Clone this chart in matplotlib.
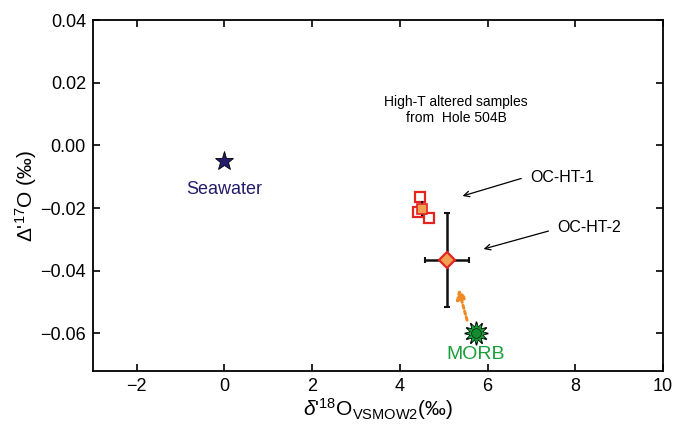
import numpy as np
import matplotlib
matplotlib.use('Agg')
import matplotlib.pyplot as plt

plt.rcParams['font.family'] = ['Liberation Sans', 'DejaVu Sans']
plt.rcParams['mathtext.fontset'] = 'custom'
plt.rcParams['mathtext.rm'] = 'Liberation Sans'
plt.rcParams['mathtext.it'] = 'Liberation Sans:italic'

# 数据
seawater = (0.0, -0.005)
ht1_x = [4.46, 4.42, 4.66]
ht1_y = [-0.0164, -0.0211, -0.0232]
ht1_mean = (4.51, -0.0202)
ht1_mean_err = 0.0024
ht2 = (5.07, -0.0365)
ht2_xerr = 0.5
ht2_yerr = 0.015
morb = (5.74, -0.060)

fig = plt.figure(figsize=(6.73, 4.26), dpi=100)
ax = fig.add_axes([0.138, 0.129, 0.847, 0.824])

# 海水
ax.plot(*seawater, marker='*', ms=14, color='#231c6b', mec='black', mew=0.6)
ax.text(seawater[0], -0.0142, 'Seawater', color='#231c6b', fontsize=13,
        ha='center', va='center')

# OC-HT-1
ax.plot(ht1_x, ht1_y, 's', ms=7, mfc='white', mec='#e52420', mew=1.6, ls='none')
ax.errorbar(ht1_mean[0], ht1_mean[1], yerr=ht1_mean_err, fmt='s', ms=7,
            mfc='#f0a050', mec='#e52420', mew=1.2, ecolor='black',
            elinewidth=1.5, capsize=0, zorder=3)

# OC-HT-2
ax.errorbar(ht2[0], ht2[1], xerr=ht2_xerr, yerr=ht2_yerr, fmt='none',
            ecolor='#111111', elinewidth=1.8, capsize=2.5, capthick=1.5)
ax.plot(*ht2, marker='D', ms=8, mfc='#f0a050', mec='#e52420', mew=1.6,
        zorder=4)

# MORB
ax.plot(*morb, marker=(12, 1, 0), ms=17, color='black', zorder=4)
ax.plot(*morb, marker=(12, 1, 0), ms=13, color='#1a9e3a', zorder=5)
ax.plot(*morb, marker='o', ms=7, color='#118a30', mec='black', mew=0.4,
        zorder=6)
ax.text(morb[0], -0.0668, 'MORB', color='#1a9e3a', fontsize=14,
        ha='center', va='center')

# 箭头
ax.annotate('', xy=(5.32, -0.0449), xytext=(5.55, -0.0566),
            arrowprops=dict(arrowstyle='-|>', color='#f08a24', lw=2.2,
                            ls=(0, (1, 1)), mutation_scale=14))
ax.annotate('', xy=(5.37, -0.0164), xytext=(6.83, -0.0103),
            arrowprops=dict(arrowstyle='->', color='black', lw=0.9))
ax.annotate('', xy=(5.85, -0.0333), xytext=(7.45, -0.0271),
            arrowprops=dict(arrowstyle='->', color='black', lw=0.9))
ax.text(6.98, -0.0103, 'OC-HT-1', fontsize=11.5, ha='left', va='center')
ax.text(7.58, -0.0262, 'OC-HT-2', fontsize=11.5, ha='left', va='center')

ax.text(5.28, 0.0113, 'High-T altered samples\nfrom  Hole 504B', fontsize=10,
        ha='center', va='center', linespacing=1.1)

ax.set_xlim(-3, 10)
ax.set_ylim(-0.072, 0.04)
ax.set_xticks([-2, 0, 2, 4, 6, 8, 10])
ax.set_yticks([-0.06, -0.04, -0.02, 0.00, 0.02, 0.04])
ax.set_yticklabels(['\u22120.06', '\u22120.04', '\u22120.02', '0.00', '0.02', '0.04'])
ax.set_xticklabels(['\u22122', '0', '2', '4', '6', '8', '10'])
ax.tick_params(direction='in', top=True, right=True, labelsize=13, length=5,
               width=1.2, pad=5)
for s in ax.spines.values():
    s.set_linewidth(1.3)

ax.set_xlabel(r"$\it{\delta}$'$^{18}$O$_{\rm VSMOW2}$" + "(\u2030)", fontsize=15,
              labelpad=1)
ax.set_ylabel("\u0394'$^{17}$O (\u2030)", fontsize=15, labelpad=1)

fig.savefig('out.png', dpi=100)
